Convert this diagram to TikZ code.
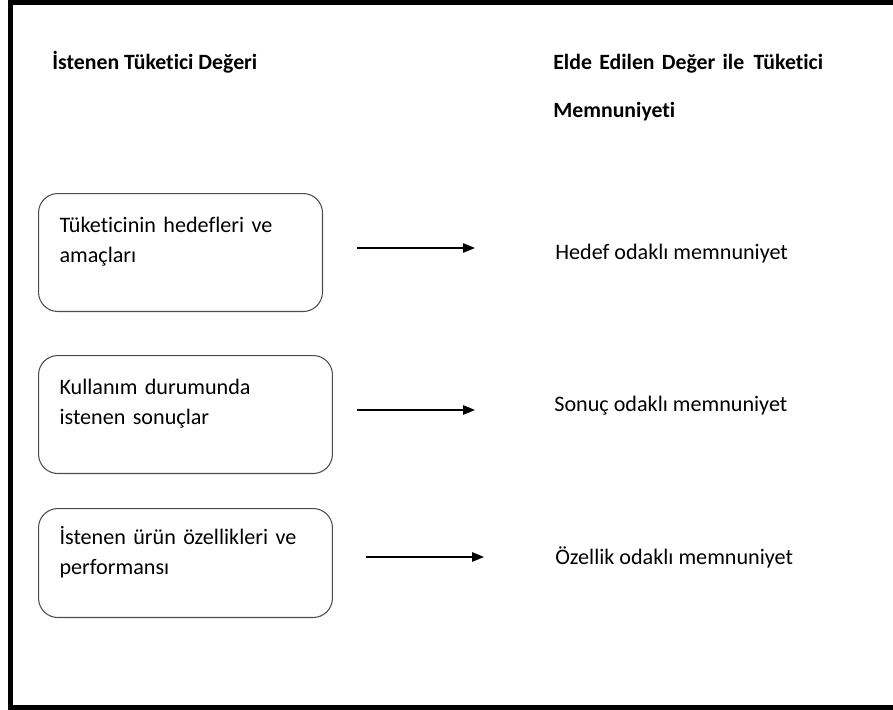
\documentclass[tikz,border=0pt]{standalone}
\usepackage{fontspec}
\setmainfont{Carlito}[Ligatures=NoCommon]
\usetikzlibrary{arrows.meta}

\tikzset{
  heading/.style={font=\bfseries\fontsize{12.4}{26.8}\selectfont, anchor=base west, inner sep=0pt, align=left},
  goalbox/.style={draw=black!70, line width=0.6pt, rounded corners=11pt, anchor=north west,
    align=left, inner xsep=0.42cm, inner ysep=0pt, font=\fontsize{12.6}{17.2}\selectfont},
  result/.style={font=\fontsize{12.6}{14}\selectfont, anchor=base west, inner sep=0pt},
  flow/.style={line width=0.75pt, -{Triangle[length=6.8pt, width=5.4pt]}}
}

\begin{document}
\begin{tikzpicture}[x=0.02cm, y=-0.02cm]
        \useasboundingbox (0,0) rectangle (893,710);
        %frame
        \draw [line width=2.85pt] (900,2.5) -- (10.5,2.5) -- (10.5,707.5) -- (900,707.5);

        %headings
        \node (wanted) [heading] at (52,70) {İstenen Tüketici Değeri};
        \node (achieved) [heading, text width=6cm] at (553,70) {Elde Edilen Değer ile \hspace{0.1em}Tüketici\\Memnuniyeti};

        %left boxes
        \node (goals) [goalbox, text width=4.84cm, minimum height=2.36cm] at (38,193)
            {Tüketicinin hedefleri ve\\amaçları\\[-8pt]\strut};
        \node (usage) [goalbox, text width=5.04cm, minimum height=2.36cm] at (38,355)
            {Kullanım durumunda\\istenen sonuçlar\\[-8pt]\strut};
        \node (attrs) [goalbox, text width=5.04cm, minimum height=2.18cm] at (38,508)
            {İstenen ürün özellikleri ve\\performansı\\[-8pt]\strut};

        %right labels
        \node (goalsat) [result] at (555,259) {Hedef odaklı memnuniyet};
        \node (usagesat) [result] at (554,411) {Sonuç odaklı memnuniyet};
        \node (attrsat) [result] at (555,564) {Özellik odaklı memnuniyet};

        %arrows
        \coordinate (g1) at (357,248);
        \coordinate (g2) at (475,248);
        \coordinate (u1) at (357,410);
        \coordinate (u2) at (475,410);
        \coordinate (a1) at (366,557);
        \coordinate (a2) at (484,557);
        \draw [flow] (g1) -- (g2);
        \draw [flow] (u1) -- (u2);
        \draw [flow] (a1) -- (a2);
    \end{tikzpicture}
\end{document}
